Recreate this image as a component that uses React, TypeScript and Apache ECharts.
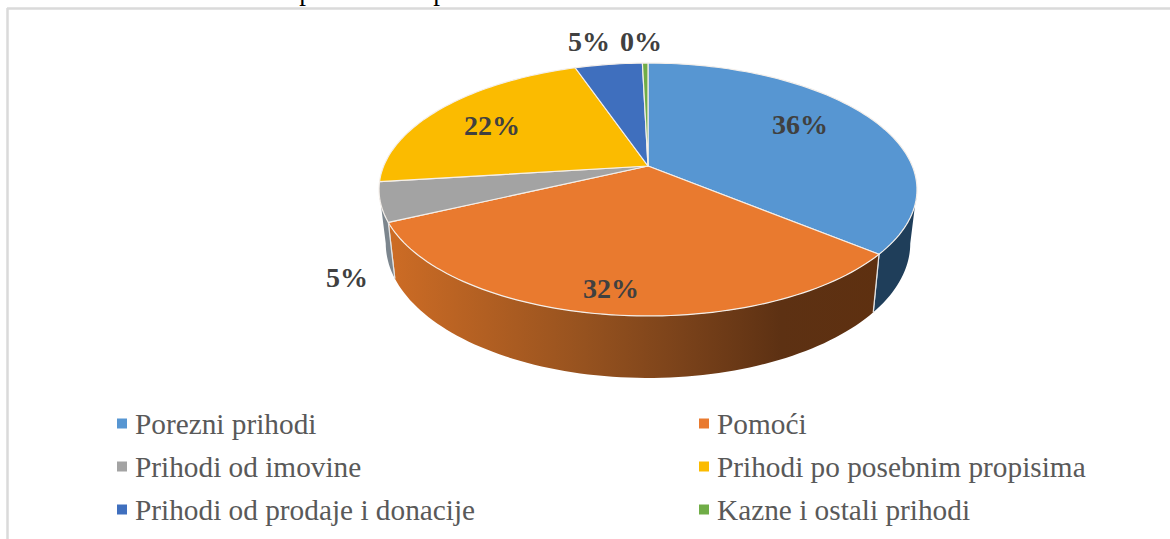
import React, { useEffect, useRef } from "react";
import * as echarts from "echarts";

const categories = [
  "Porezni prihodi",
  "Pomoći",
  "Prihodi od imovine",
  "Prihodi po posebnim propisima",
  "Prihodi od prodaje i donacije",
  "Kazne i ostali prihodi",
];
const shares = [36, 32, 5, 21.75, 4.85, 0.4];

const topColors = ["#5796D2", "#E97A2F", "#A3A3A3", "#FBBB00", "#3F6FBE", "#70AD47"];
const wallColors = ["#1F3E5A", null, "#7C868E", "#A07800", "#2A4A7E", "#4A7030"];
const labelPositions = [
  [800, 124],
  [611, 288],
  [347, 277],
  [492, 125],
  [589, 41],
  [641, 41],
];

const orangeWall = {
  type: "linear",
  x: 0,
  y: 0,
  x2: 1,
  y2: 0,
  colorStops: [
    { offset: 0, color: "#CD6C25" },
    { offset: 0.4, color: "#96521F" },
    { offset: 0.6, color: "#7A421A" },
    { offset: 0.8, color: "#5D3113" },
    { offset: 1, color: "#5E3010" },
  ],
};

// Perspective projection of the pie's top disc
const APEX_X = 648;
const APEX_Y = 166;
const SCALE_X = 264.3;
const SCALE_Y = 122.1;
const PERSP = -0.1858;
const FRONT_FROM = 100.7;
const FRONT_TO = 259.3;

const rim = (deg: number) => {
  const t = (deg * Math.PI) / 180;
  const sx = Math.sin(t);
  const sy = -Math.cos(t);
  const d = 1 + PERSP * sy;
  return [APEX_X + (SCALE_X * sx) / d, APEX_Y + (SCALE_Y * sy) / d];
};
const lower = (p: number[]) => [
  APEX_X + (p[0] - APEX_X) * 0.975,
  APEX_Y + 52.4 + (p[1] - APEX_Y) * 1.064,
];
const arc = (a: number, b: number) => {
  const n = Math.max(2, Math.ceil((b - a) / 1.5));
  const pts: number[][] = [];
  for (let i = 0; i <= n; i++) pts.push(rim(a + ((b - a) * i) / n));
  return pts;
};

const makeRender = (idx: number) => (_params: any, api: any) => {
  const start = (api.value(0) / 100) * 360;
  const end = start + (api.value(1) / 100) * 360;
  const children: any[] = [];
  const a = Math.max(start, FRONT_FROM);
  const b = Math.min(end, FRONT_TO);
  if (b > a) {
    const up = arc(a, b);
    const down = up.map(lower).reverse();
    children.push({
      type: "polygon",
      shape: { points: up.concat(down) },
      style: { fill: wallColors[idx] ?? orangeWall, stroke: "none" },
    });
    [start, end].forEach((e) => {
      if (e >= FRONT_FROM && e <= FRONT_TO) {
        const p = rim(e);
        const q = lower(p);
        children.push({
          type: "line",
          shape: { x1: p[0], y1: p[1], x2: q[0], y2: q[1] },
          style: { stroke: "#E4E4E4", lineWidth: 1.2 },
        });
      }
    });
  }
  children.push({
    type: "polygon",
    shape: { points: [[APEX_X, APEX_Y] as number[]].concat(arc(start, end)) },
    style: { fill: topColors[idx], stroke: "#F4EFEA", lineWidth: 1.2, lineJoin: "round" },
  });
  return { type: "group", children };
};

const labelRender = (_params: any, api: any) => {
  const idx = api.value(0);
  return {
    type: "text",
    z2: 100,
    style: {
      text: `${Math.round(api.value(1))}%`,
      x: labelPositions[idx][0],
      y: labelPositions[idx][1],
      align: "center",
      verticalAlign: "middle",
      fontFamily: "Liberation Serif",
      fontWeight: "bold",
      fontSize: 28,
      fill: "#404040",
    },
  };
};

export default function App() {
  const ref = useRef<HTMLDivElement>(null);
  useEffect(() => {
    const chart = echarts.init(ref.current!, undefined, { renderer: "svg" });
    let cum = 0;
    const sliceSeries = categories.map((name, i) => {
      const s = {
        type: "custom",
        name,
        coordinateSystem: "none",
        silent: true,
        itemStyle: { color: topColors[i] },
        renderItem: makeRender(i),
        data: [[cum, shares[i]]],
      };
      cum += shares[i];
      return s;
    });
    const legendBase = {
      orient: "vertical",
      top: 404,
      itemWidth: 10,
      itemHeight: 10,
      itemGap: 14,
      icon: "rect",
      selectedMode: false,
      textStyle: {
        fontFamily: "Liberation Serif",
        fontSize: 29.3,
        color: "#595959",
        padding: [0, 0, 0, 3],
      },
    };
    chart.setOption({
      animation: false,
      backgroundColor: "#FFFFFF",
      legend: [
        { ...legendBase, left: 112, data: [categories[0], categories[2], categories[4]] },
        { ...legendBase, left: 694, data: [categories[1], categories[3], categories[5]] },
      ],
      graphic: [
        { type: "line", shape: { x1: 7, y1: 8.5, x2: 1170, y2: 8.5 }, style: { stroke: "#DADADA", lineWidth: 2.5 } },
        { type: "line", shape: { x1: 7.5, y1: 8, x2: 7.5, y2: 539 }, style: { stroke: "#DADADA", lineWidth: 2.5 } },
        { type: "text", x: 306, y: 4, style: { text: "p", align: "center", verticalAlign: "bottom", fontFamily: "Liberation Serif", fontSize: 27, fill: "#000000" } },
        { type: "text", x: 440, y: 4, style: { text: "p", align: "center", verticalAlign: "bottom", fontFamily: "Liberation Serif", fontSize: 27, fill: "#000000" } },
      ],
      series: [
        ...sliceSeries,
        {
          type: "custom",
          name: "labels",
          coordinateSystem: "none",
          silent: true,
          z: 5,
          renderItem: labelRender,
          data: shares.map((v, i) => [i, v]),
        },
      ],
    });
    return () => chart.dispose();
  }, []);
  return <div ref={ref} style={{ position: "absolute", left: 0, top: 0, width: 1170, height: 539 }} />;
}
